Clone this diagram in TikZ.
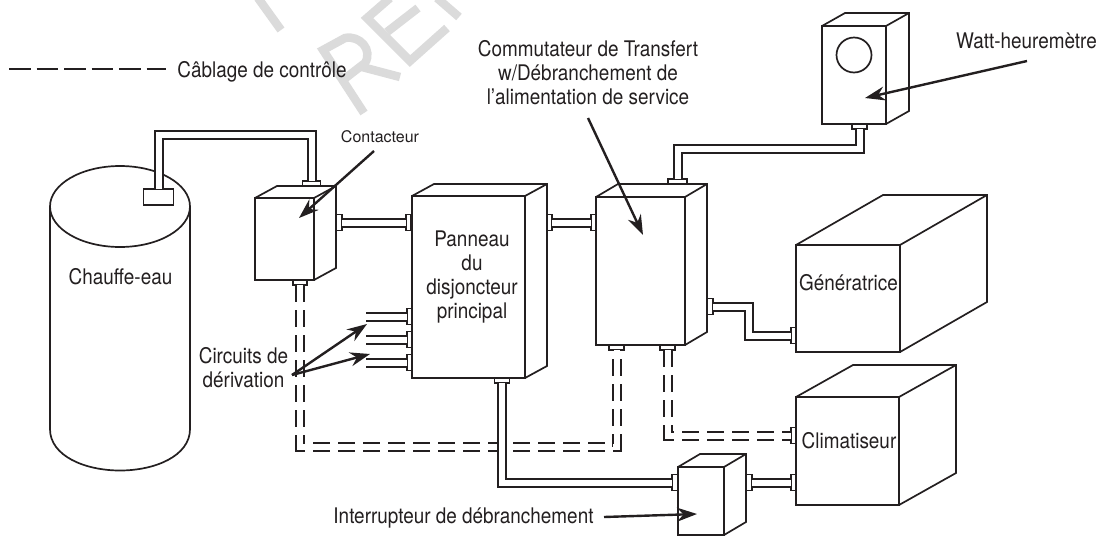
\documentclass[tikz,border=0pt]{standalone}
\usepackage{fontspec}
\usepackage{tikz}
\usetikzlibrary{arrows.meta,shapes.geometric}
\newfontfamily\condfont[FakeStretch=0.88]{TeX Gyre Heros}
\newfontfamily\plainfont{TeX Gyre Heros}
\definecolor{InkColor}{RGB}{35,31,32}

\begin{document}
\begin{tikzpicture}[x=1pt,y=-1pt,line width=1.7pt,InkColor,
   wmark/.style={draw=black!14,line width=8.5pt},
   cabfront/.style={rectangle,draw,inner sep=0pt,outer sep=0pt},
   hport/.style={rectangle,draw,fill=white,inner sep=0pt,outer sep=0pt,minimum width=#1 pt,minimum height=5pt},
   vport/.style={rectangle,draw,fill=white,inner sep=0pt,outer sep=0pt,minimum width=#1 pt,minimum height=16pt},
   pipe/.style={line width=2pt,double=white,double distance=6pt},
   ctrl/.style={line width=2pt,double=white,double distance=6pt,dash pattern=on 17pt off 8pt},
   callout/.style={line width=2.4pt,-{Stealth[length=20pt,width=14pt]}},
   lbl/.style={font=\condfont\fontsize{21.5}{24}\selectfont,inner sep=0pt,align=center,anchor=base}]
\useasboundingbox (0,0) rectangle (1102,536);

% watermark
\draw[wmark] (258,-2) -- (281,30);
\draw[wmark] (364,113) -- (323,50) -- (345,38) .. controls (360,35) and (373,50) .. (365,63) -- (343,80);
\draw[wmark] (362,67) -- (400,77);
\draw[wmark] (390,-2) -- (367,18) -- (410,61) -- (447,28);
\draw[wmark] (387,32) -- (418,8);
\draw[wmark] (437,-2) -- (459,17);

\foreach \name/\x/\y/\w/\h/\dx/\dy in %
{contactor/255/198/59/82/22/12,panel/412/196/113/182/22/12,xfer/596/197/89/148/22/13,
 meter/822/26/64/98/23/13,disc/678/467/46/68/22/13,gen/796/245/104/107/87/50,air/796/397/103/108/57/32} {
   \node[cabfront,minimum width=\w pt,minimum height=\h pt](\name) at (\x+\w/2,\y+\h/2) {};
   \draw[line join=miter] (\name.north west) -- ++(\dx,-\dy) -- ([xshift=\dx pt,yshift=\dy pt]\name.north east)
      -- ([xshift=\dx pt,yshift=\dy pt]\name.south east) -- (\name.south east);
   \draw (\name.north east) -- ++(\dx,-\dy);
}
\node[circle,draw,inner sep=0pt,minimum size=35pt](dial) at (854,55) {};

% tank
\node[ellipse,draw,inner sep=0pt,outer sep=0pt,minimum width=140pt,minimum height=81pt](tank) at (120,206.5) {};
\coordinate (tankbl) at (50,429);
\coordinate (tankbr) at (190,429);
\draw (tank.west) -- (tankbl) .. controls (50,456) and (85,470.5) .. (120,470.5)
   .. controls (155,470.5) and (190,456) .. (tankbr) -- (tank.east);
\node[rectangle,draw,fill=white,inner sep=0pt,outer sep=0pt,minimum width=30pt,minimum height=16pt](tankbox) at (158.5,197) {};

\foreach \name/\x/\y/\w in %
{ctop/311.5/183.5/18,cbot/300/282.5/14,pbot/502/380.5/15,xbotA/616.5/347.5/15,xbotB/667.5/347.5/15,xtop/677.5/181.5/19,mbot/859.5/126.5/15} {
   \node[hport=\w](\name) at (\x,\y) {};
}
\foreach \name/\x/\y/\w in %
{cright/339/222.5/6,ppin/408.5/222.5/5,pright/549.5/222.5/5,xleft/593.5/222.5/5,xright/710/306.5/6,
 genport/793.5/335.5/5,airctrl/793.5/435.5/5,airpow/793.5/482.5/5,dleft/675/482.5/6,dright/749/482.5/6,
 brA/409.5/316.5/5,brB/409.5/339.5/5,brC/409.5/362.5/5} {
   \node[vport=\w](\name) at (\x,\y) {};
}

\coordinate (tankrun) at (230,134.5);
\coordinate (meterrun) at (770,148.5);
\coordinate (genjog) at (748.5,320);
\coordinate (ctrlrun) at (450,447);
\draw[ctrl] (cbot.south) |- (ctrlrun) -| (xbotA.south);
\draw[ctrl] (xbotB.south) |- (airctrl.west);
\draw[pipe] (tankbox.north) |- (tankrun) -| (ctop.north);
\draw[pipe] (cright.east) -- (ppin.west);
\draw[pipe] (pright.east) -- (xleft.west);
\draw[pipe] (xtop.north) |- (meterrun) -| (mbot.south);
\draw[pipe] (xright.east) -| (genjog) |- (genport.west);
\draw[pipe] (pbot.south) |- (dleft.west);
\draw[pipe] (dright.east) -- (airpow.west);
\foreach \b in {brA,brB,brC} {
   \coordinate (\b end) at ([xshift=-41pt]\b.west);
   \draw[pipe] (\b.west) -- (\b end);
}

\coordinate (legendA) at (9,69);
\coordinate (legendB) at (166,69);
\draw[dash pattern=on 21.5pt off 6pt] (legendA) -- (legendB);

\node[lbl](legendtext) at (262,77) {Câblage de contrôle};
\node[lbl](tanktext) at (120.5,284) {Chauffe-eau};
\node[inner sep=0pt,anchor=base,font=\plainfont\fontsize{16}{20}\selectfont](contacttext) at (380,142) {Contacteur};
\node[lbl](paneltext) at (472,318) {Panneau\\du\\disjoncteur\\principal};
\node[lbl](xfertext) at (588,104) {Commutateur de Transfert\\w/Débranchement de\\l’alimentation de service};
\node[lbl](metertext) at (1026.5,48) {Watt-heuremètre};
\node[lbl](gentext) at (848.5,290) {Génératrice};
\node[lbl](airtext) at (849,448) {Climatiseur};
\node[lbl](branchtext) at (243.5,387) {Circuits de\\dérivation};
\node[lbl](disctext) at (463.5,523) {Interrupteur de débranchement};

\coordinate (contacttail) at (374,151);
\coordinate (contacttip) at (299,218);
\coordinate (xfertail) at (588,118);
\coordinate (xfertip) at (643,235);
\coordinate (metertail) at (1027,61);
\coordinate (metertip) at (865,98);
\coordinate (disctail) at (604,517);
\coordinate (disctip) at (697,514);
\coordinate (branchtail) at (292,375);
\coordinate (branchtipA) at (367,324);
\coordinate (branchtipB) at (370,354);
\draw[callout] (contacttail) -- (contacttip);
\draw[callout] (xfertail) -- (xfertip);
\draw[callout] (metertail) -- (metertip);
\draw[callout] (disctail) -- (disctip);
\draw[callout] (branchtail) -- (branchtipA);
\draw[callout] (branchtail) -- (branchtipB);
\end{tikzpicture}
\end{document}
